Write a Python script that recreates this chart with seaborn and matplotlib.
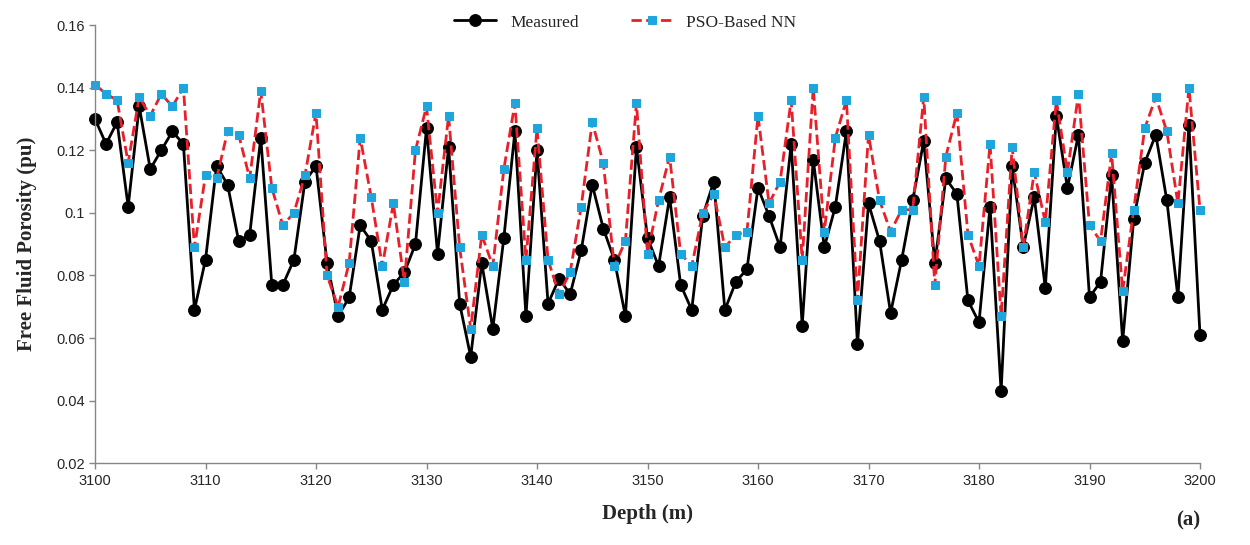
import numpy as np
import pandas as pd
import seaborn as sns
import matplotlib.pyplot as plt
from matplotlib.ticker import MultipleLocator, FuncFormatter

# Depths 3100..3200 m, one reading per metre
depth = list(range(3100, 3201))

measured = [
    0.130, 0.122, 0.129, 0.102, 0.134, 0.114, 0.120, 0.126, 0.122, 0.069,
    0.085, 0.115, 0.109, 0.091, 0.093, 0.124, 0.077, 0.077, 0.085, 0.110,
    0.115, 0.084, 0.067, 0.073, 0.096, 0.091, 0.069, 0.077, 0.081, 0.090,
    0.127, 0.087, 0.121, 0.071, 0.054, 0.084, 0.063, 0.092, 0.126, 0.067,
    0.120, 0.071, 0.079, 0.074, 0.088, 0.109, 0.095, 0.085, 0.067, 0.121,
    0.092, 0.083, 0.105, 0.077, 0.069, 0.099, 0.110, 0.069, 0.078, 0.082,
    0.108, 0.099, 0.089, 0.122, 0.064, 0.117, 0.089, 0.102, 0.126, 0.058,
    0.103, 0.091, 0.068, 0.085, 0.104, 0.123, 0.084, 0.111, 0.106, 0.072,
    0.065, 0.102, 0.043, 0.115, 0.089, 0.105, 0.076, 0.131, 0.108, 0.125,
    0.073, 0.078, 0.112, 0.059, 0.098, 0.116, 0.125, 0.104, 0.073, 0.128,
    0.061,
]

pso_nn = [
    0.141, 0.138, 0.136, 0.116, 0.137, 0.131, 0.138, 0.134, 0.140, 0.089,
    0.112, 0.111, 0.126, 0.125, 0.111, 0.139, 0.108, 0.096, 0.100, 0.112,
    0.132, 0.080, 0.070, 0.084, 0.124, 0.105, 0.083, 0.103, 0.078, 0.120,
    0.134, 0.100, 0.131, 0.089, 0.063, 0.093, 0.083, 0.114, 0.135, 0.085,
    0.127, 0.085, 0.074, 0.081, 0.102, 0.129, 0.116, 0.083, 0.091, 0.135,
    0.087, 0.104, 0.118, 0.087, 0.083, 0.100, 0.106, 0.089, 0.093, 0.094,
    0.131, 0.103, 0.110, 0.136, 0.085, 0.140, 0.094, 0.124, 0.136, 0.072,
    0.125, 0.104, 0.094, 0.101, 0.101, 0.137, 0.077, 0.118, 0.132, 0.093,
    0.083, 0.122, 0.067, 0.121, 0.089, 0.113, 0.097, 0.136, 0.113, 0.138,
    0.096, 0.091, 0.119, 0.075, 0.101, 0.127, 0.137, 0.126, 0.103, 0.140,
    0.101,
]

df = pd.DataFrame({'depth': depth, 'measured': measured, 'pso': pso_nn})

sns.set_style('white')

fig = plt.figure(figsize=(12.5, 5.45), dpi=100)
ax = fig.add_axes([0.076, 0.150, 0.884, 0.804])

sns.lineplot(data=df, x='depth', y='measured', ax=ax, color='black',
             linewidth=2, marker='o', markersize=8.5, markeredgecolor='black',
             label='Measured')
sns.lineplot(data=df, x='depth', y='pso', ax=ax, color='#e8202a',
             linewidth=2, linestyle='--', marker='s', markersize=6,
             markerfacecolor='#1ea5dc', markeredgecolor='#1ea5dc',
             label='PSO-Based NN')
# let end markers show in full, as in the original
for ln in ax.lines:
    ln.set_clip_on(False)

ax.set_xlim(3100, 3200)
ax.set_ylim(0.02, 0.16)
ax.xaxis.set_major_locator(MultipleLocator(10))
ax.yaxis.set_major_locator(MultipleLocator(0.02))
ax.yaxis.set_major_formatter(FuncFormatter(lambda v, p: f'{v:g}'))

for s in ['top', 'right']:
    ax.spines[s].set_visible(False)
for s in ['left', 'bottom']:
    ax.spines[s].set_color('#868686')
    ax.spines[s].set_linewidth(1)
ax.tick_params(axis='both', direction='out', length=4, width=1,
               color='#868686', labelsize=10.5, bottom=True, left=True)
for lab in ax.get_xticklabels() + ax.get_yticklabels():
    lab.set_family('Liberation Sans')

ax.set_xlabel('Depth (m)', family='Liberation Serif', fontsize=15,
              fontweight='bold', labelpad=12)
ax.set_ylabel('Free Fluid Porosity (pu)', family='Liberation Serif',
              fontsize=15, fontweight='bold', labelpad=14)

ax.legend(loc='upper center', bbox_to_anchor=(0.48, 1.06), ncol=2,
          frameon=False, prop={'family': 'Liberation Serif', 'size': 12.5},
          handlelength=2.4, columnspacing=3)

fig.text(0.96, 0.035, '(a)', family='Liberation Serif', fontsize=15,
         fontweight='bold', ha='right')

fig.savefig('out.png', dpi=100)
